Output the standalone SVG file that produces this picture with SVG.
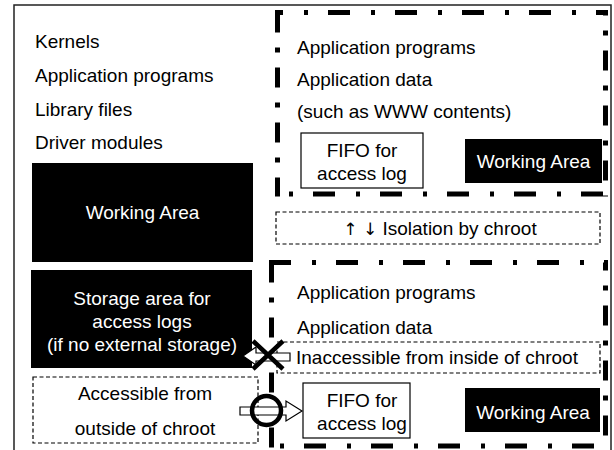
<svg xmlns="http://www.w3.org/2000/svg" width="614" height="450" viewBox="0 0 614 450">
<style>
text{font-family:"Liberation Sans",Arial,sans-serif;font-size:19px;fill:#000}
.w{fill:#fff}
.m{text-anchor:middle}
.arw{font-family:"DejaVu Sans",sans-serif;font-size:17px}
.blk{fill:#000}
.sol{fill:#fff;stroke:#000;stroke-width:1.2}
.dsh{fill:none;stroke:#000;stroke-width:1.2;stroke-dasharray:4 2.5}
.ch{fill:none;stroke:#000;stroke-width:5}
.h{stroke-dasharray:22 21 4 20}
.v{stroke-dasharray:20 15 5 15}
.ar{fill:#fff;stroke:#000;stroke-width:1.2}
.sym{fill:none;stroke:#000;stroke-width:4.5}
</style>
<rect x="14" y="5" width="597" height="470" fill="#fff" stroke="#222" stroke-width="1.5"/>

<g id="host-list">
<text x="35" y="47.5">Kernels</text>
<text x="35" y="81.5">Application programs</text>
<text x="35" y="115.5">Library files</text>
<text x="35" y="149">Driver modules</text>
</g>
<g id="host-working-area">
<rect class="blk" x="32" y="163" width="221" height="99"/>
<text class="w m" x="142.5" y="218.5">Working Area</text>
</g>
<g id="storage-area">
<rect class="blk" x="31" y="270" width="221" height="98"/>
<text class="w m" x="142" y="305">Storage area for</text>
<text class="w m" x="142" y="328">access logs</text>
<text class="w m" x="142" y="351">(if no external storage)</text>
</g>
<g id="accessible-outside">
<rect class="dsh" x="33" y="377" width="225" height="66"/>
<text class="m" x="145" y="400">Accessible from</text>
<text class="m" x="145" y="435">outside of chroot</text>
</g>

<g id="chroot-top">
<path class="ch h" d="M275,12.5H608" stroke-dashoffset="14"/>
<path class="ch v" d="M277.5,12.5V196.5"/>
<path class="ch v" d="M605.5,12.5V196.5" stroke-dashoffset="17"/>
<path class="ch h" d="M275,194H608" stroke-dashoffset="29"/>
<text x="297" y="53.5">Application programs</text>
<text x="297" y="86">Application data</text>
<text x="297" y="118">(such as WWW contents)</text>
</g>
<g id="fifo-top">
<rect class="sol" x="301" y="133" width="122" height="55"/>
<text class="m" x="362" y="157">FIFO for</text>
<text class="m" x="362" y="180">access log</text>
</g>
<g id="working-top">
<rect class="blk" x="465" y="139" width="137" height="44"/>
<text class="w m" x="533.5" y="168">Working Area</text>
</g>

<g id="isolation">
<rect class="dsh" x="276" y="212" width="324" height="32"/>
<text class="m" x="440" y="235"><tspan class="arw">↑ ↓</tspan> Isolation by chroot</text>
</g>

<g id="chroot-bottom">
<path class="ch h" d="M269,262.5H608"/>
<path class="ch v" d="M271.5,262.5V452"/>
<path class="ch v" d="M605.5,262.5V452" stroke-dashoffset="12"/>
<path class="ch h" d="M269,446H608" stroke-dashoffset="32"/>
<text x="297" y="298.5">Application programs</text>
<text x="297" y="333.5">Application data</text>
</g>
<g id="inaccessible">
<rect class="dsh" x="277" y="342" width="323" height="31"/>
<text x="296" y="364">Inaccessible from inside of chroot</text>
</g>
<g id="fifo-bottom">
<rect class="sol" x="303" y="383" width="107" height="55"/>
<text class="m" x="362" y="407">FIFO for</text>
<text class="m" x="362" y="430">access log</text>
</g>
<g id="working-bottom">
<rect class="blk" x="465" y="388" width="135" height="44"/>
<text class="w m" x="533" y="418.5">Working Area</text>
</g>

<g id="connectors">
<polygon class="ar" points="243,356 256,347 256,353 290,353 290,361 256,361 256,365"/>
<path class="sym" d="M253,341L283,369M283,341L253,369"/>
<polygon class="ar" points="240,407 286,407 286,401 302,411 286,421 286,415 240,415"/>
<circle class="sym" cx="266.5" cy="410.5" r="14.5"/>
</g>
</svg>
